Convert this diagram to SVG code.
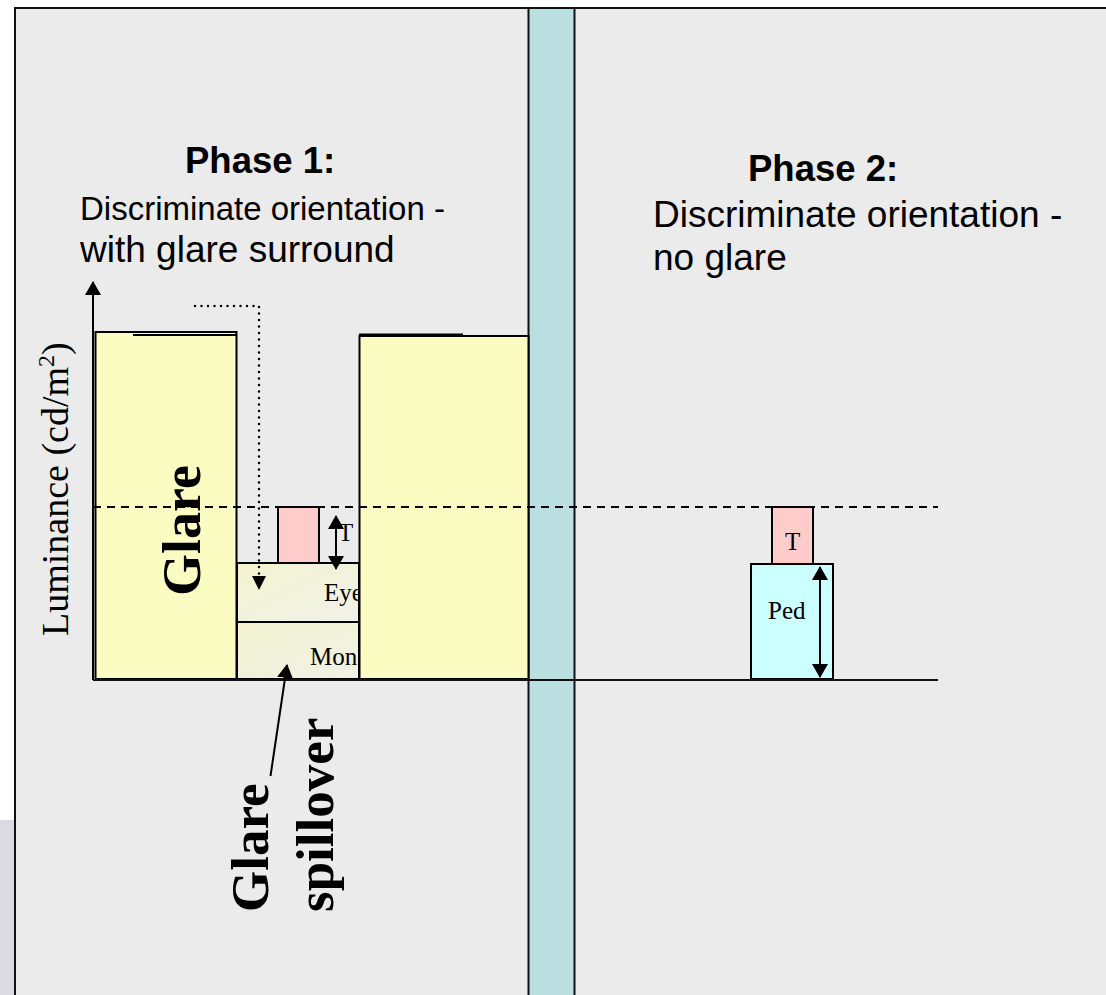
<svg xmlns="http://www.w3.org/2000/svg" width="1106" height="995" viewBox="0 0 1106 995">
<style>
.sans{font-family:"Liberation Sans",Arial,sans-serif;fill:#000}
.serif{font-family:"Liberation Serif","Times New Roman",serif;fill:#000}
.yel{fill:#FBFCC2;stroke:#000;stroke-width:2}
.ln{stroke:#000;stroke-width:2;fill:none}
</style>
<defs>
<marker id="ahb" viewBox="0 0 14 16" refX="13" refY="8" markerWidth="14" markerHeight="16" markerUnits="userSpaceOnUse" orient="auto-start-reverse">
<path d="M0,0 L14,8 L0,16 z" fill="#000"/>
</marker>
<linearGradient id="gEye" x1="0" y1="0" x2="1" y2="1">
<stop offset="0" stop-color="#F3F3CF"/>
<stop offset="1" stop-color="#F1F1E9"/>
</linearGradient>
<linearGradient id="gMon" x1="0" y1="0" x2="1" y2="1">
<stop offset="0" stop-color="#F2F2D0"/>
<stop offset="1" stop-color="#F1F1E6"/>
</linearGradient>
</defs>
<rect x="0" y="0" width="1106" height="995" fill="#FFFFFF"/>
<rect x="0" y="820" width="15" height="175" fill="#DADAE0"/>
<g id="panel">
<rect x="15" y="8" width="1100" height="1000" fill="#EAEBEA" stroke="#111" stroke-width="2"/>
</g>
<g id="divider">
<rect x="528.5" y="8" width="46" height="995" fill="#B9DFE1" stroke="#111" stroke-width="2"/>
</g>
<g id="phase1-title">
<text class="sans" x="185" y="173" font-size="36.5" font-weight="bold">Phase 1:</text>
<text class="sans" x="80" y="220" font-size="33">Discriminate orientation -</text>
<text class="sans" x="80" y="262" font-size="37">with glare surround</text>
</g>
<g id="phase2-title">
<text class="sans" x="748" y="181" font-size="36.5" font-weight="bold">Phase 2:</text>
<text class="sans" x="653" y="227" font-size="37">Discriminate orientation -</text>
<text class="sans" x="653" y="270" font-size="37">no glare</text>
</g>
<g id="eye-box">
<rect x="237" y="563" width="122" height="59" fill="url(#gEye)" stroke="#000" stroke-width="2"/>
<text class="serif" x="324" y="601" font-size="25">Eye</text>
</g>
<g id="mon-box">
<rect x="237" y="622" width="122" height="57" fill="url(#gMon)" stroke="#000" stroke-width="2"/>
<text class="serif" x="310" y="665" font-size="25">Mon</text>
</g>
<g id="t-box-1">
<rect x="278" y="507" width="41" height="56" fill="#FFCCCC" stroke="#000" stroke-width="2"/>
<text class="serif" x="338" y="541" font-size="25">T</text>
</g>
<g id="glare-bar">
<rect class="yel" x="95.5" y="332" width="141" height="347"/>
<line class="ln" x1="133" y1="335" x2="236" y2="335"/>
<text class="serif" font-size="54" font-weight="bold" transform="translate(200,596) rotate(-90)">Glare</text>
</g>
<g id="glare-bar-right">
<rect class="yel" x="359.5" y="336" width="169" height="343"/>
<line class="ln" x1="359" y1="334.5" x2="463" y2="334.5"/>
</g>
<g id="ped-box">
<rect x="751" y="564" width="82" height="115" fill="#CCFFFF" stroke="#000" stroke-width="2"/>
<text class="serif" x="768" y="619" font-size="25">Ped</text>
</g>
<g id="t-box-2">
<rect x="772" y="507" width="41" height="57" fill="#FFCCCC" stroke="#000" stroke-width="2"/>
<text class="serif" x="785" y="550" font-size="25">T</text>
</g>
<g id="y-axis-label">
<text class="serif" font-size="38" transform="translate(68,636) rotate(-90)">Luminance (cd/m<tspan font-size="24" dy="-14">2</tspan><tspan dy="14">)</tspan></text>
</g>
<g id="glare-spillover-label">
<text class="serif" font-size="53" font-weight="bold" transform="translate(268,912) rotate(-90)">Glare</text>
<text class="serif" font-size="53" font-weight="bold" transform="translate(333,912) rotate(-90)">spillover</text>
</g>
<g id="connectors">
<line x1="93" y1="680" x2="93" y2="282" stroke="#000" stroke-width="2" marker-end="url(#ahb)"/>
<line x1="93" y1="680" x2="938" y2="680" stroke="#111" stroke-width="2"/>
<line x1="93" y1="507" x2="938" y2="507" stroke="#000" stroke-width="1.8" stroke-dasharray="8 6"/>
<polyline points="195,306 259,306 259,580" fill="none" stroke="#000" stroke-width="2.5" stroke-linecap="round" stroke-dasharray="0 6.5"/>
<path d="M252,576 L266,576 L259,590 z" fill="#000"/>
<line x1="336" y1="516" x2="336" y2="569" stroke="#000" stroke-width="2" marker-start="url(#ahb)" marker-end="url(#ahb)"/>
<line x1="820" y1="567" x2="820" y2="677" stroke="#000" stroke-width="2" marker-start="url(#ahb)" marker-end="url(#ahb)"/>
<line x1="270.5" y1="776" x2="287" y2="665" stroke="#000" stroke-width="2" marker-end="url(#ahb)"/>
</g>
</svg>
